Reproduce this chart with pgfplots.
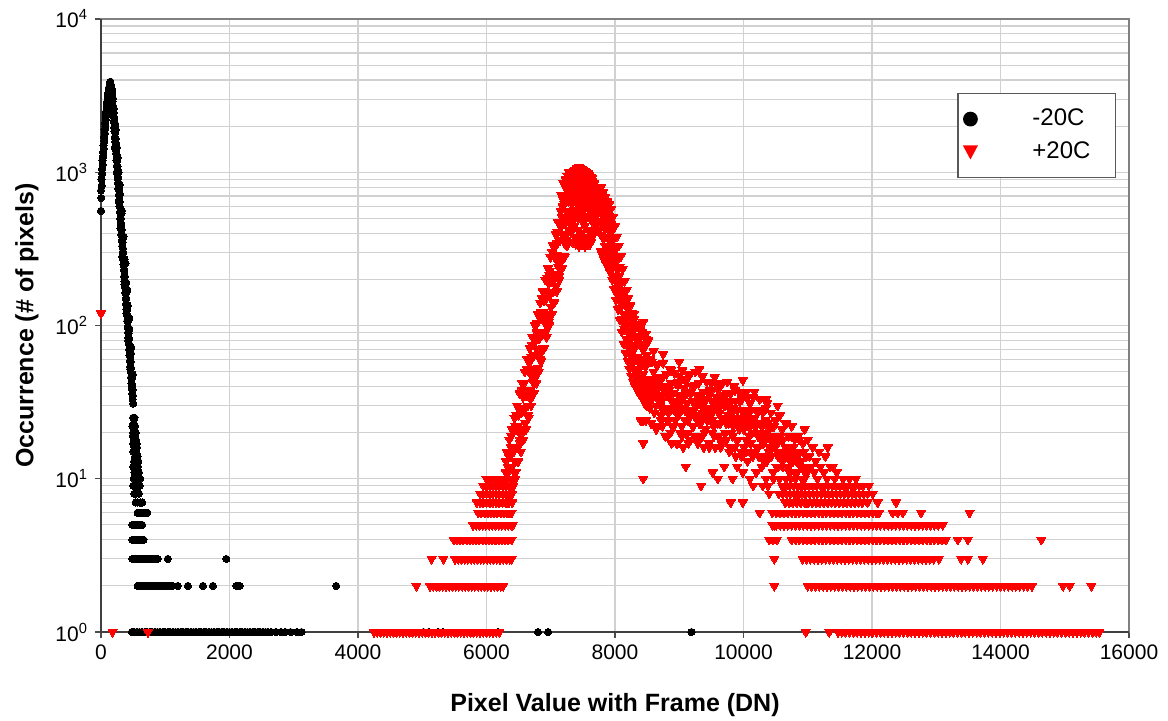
\documentclass[border=0pt]{standalone}
\usepackage{fontspec}
\setmainfont{Liberation Sans}
\usepackage{pgfplots}
\pgfplotsset{compat=1.18}
\usepackage{pgfplotstable}

% -20C series
\pgfplotstableread[row sep=\\]{
x y\\
0 560\\ 0 760\\ 4 680\\ 8 900\\ 12 820\\ 16 1050\\ 20 980\\ 24 1200\\ 28 1120\\ 32 1350\\ 36 1280\\ 40 1500\\ 44 1420\\ 48 1700\\ 52 1600\\ 56 1900\\ 60 1800\\ 64 2100\\ 68 2000\\ 72 2300\\ 76 2200\\ 80 2500\\ 84 2400\\ 88 2700\\ 92 2600\\ 96 2900\\ 100 2800\\ 104 3100\\ 108 3000\\ 112 3300\\ 116 3200\\ 120 3500\\ 124 3400\\ 128 3600\\ 132 3500\\ 136 3700\\ 140 3650\\ 144 3800\\ 146 3900\\ 148 3600\\ 152 3750\\ 156 3550\\ 160 3650\\ 164 3400\\ 168 3500\\ 172 3200\\ 176 3300\\ 180 2900\\ 184 3050\\ 188 2700\\ 192 2500\\
196 2450\\ 199 2150\\ 202 2300\\ 205 1950\\ 208 2150\\ 211 1850\\ 214 1950\\ 217 1700\\ 220 1820\\ 223 1580\\ 226 1650\\ 229 1420\\ 232 1550\\ 235 1330\\ 238 1400\\ 241 1200\\ 244 1300\\ 247 1100\\ 250 1180\\ 253 1000\\ 256 1090\\ 259 920\\ 262 980\\ 265 850\\ 268 920\\ 271 780\\ 274 840\\ 277 710\\ 280 770\\ 283 650\\ 286 700\\ 289 600\\ 292 640\\ 295 550\\ 298 590\\ 301 500\\ 304 540\\ 307 460\\ 310 500\\ 313 430\\ 316 460\\ 319 390\\ 322 420\\ 325 360\\ 328 385\\ 331 330\\ 334 350\\ 337 300\\ 340 320\\ 343 270\\ 346 300\\ 349 250\\ 352 270\\ 355 230\\ 358 250\\ 361 210\\ 364 230\\ 367 195\\ 370 210\\ 373 178\\ 376 192\\ 379 163\\ 382 175\\ 385 150\\ 388 162\\ 391 138\\ 394 150\\ 397 127\\ 400 137\\ 403 117\\ 406 126\\ 409 107\\ 412 116\\ 415 98\\ 418 106\\ 421 90\\ 424 97\\ 427 83\\ 430 89\\ 433 76\\ 436 82\\ 439 70\\ 442 75\\ 445 64\\ 448 69\\ 451 59\\ 454 63\\ 457 54\\ 460 58\\ 463 50\\ 466 53\\ 469 46\\ 472 49\\ 475 42\\ 478 45\\ 481 39\\ 484 41\\ 487 36\\ 490 38\\ 493 33\\ 496 35\\ 500 31\\
224 2050\\ 248 1450\\ 272 1000\\ 296 720\\ 320 540\\ 344 380\\ 368 270\\ 392 190\\ 416 135\\ 440 95\\ 464 66\\ 488 46\\
200 2600\\ 230 1900\\ 260 1250\\ 290 830\\ 320 560\\ 350 380\\ 380 255\\ 410 170\\ 440 112\\ 470 72\\ 495 48\\
215 1450\\ 245 1000\\ 275 650\\ 305 430\\ 335 280\\ 365 185\\ 395 120\\ 425 80\\ 455 52\\
500 25\\ 520 25\\ 510 23\\ 490 22\\ 530 22\\ 505 20\\ 540 20\\ 495 19\\ 525 19\\ 515 18\\ 545 18\\ 500 17\\ 535 17\\ 555 17\\ 520 16\\ 560 16\\ 505 15\\ 545 15\\ 530 14\\ 570 14\\ 515 13\\ 550 13\\ 580 13\\ 500 12\\ 540 12\\ 575 12\\ 520 11\\ 560 11\\ 590 11\\ 510 10\\ 545 10\\ 580 10\\ 610 10\\ 500 9\\ 530 9\\ 560 9\\ 600 9\\ 520 8\\ 550 8\\ 590 8\\ 540 7\\ 570 7\\ 610 7\\ 640 7\\ 570 6\\ 600 6\\ 640 6\\ 680 6\\ 720 6\\ 490 5\\ 520 5\\ 560 5\\ 600 5\\ 640 5\\ 490 4\\ 520 4\\ 550 4\\ 580 4\\ 620 4\\ 660 4\\
490 3\\ 520 3\\ 550 3\\ 580 3\\ 610 3\\ 640 3\\ 670 3\\ 700 3\\ 730 3\\ 760 3\\ 790 3\\ 820 3\\ 850 3\\ 880 3\\ 1040 3\\ 1950 3\\
570 2\\ 600 2\\ 630 2\\ 660 2\\ 690 2\\ 720 2\\ 750 2\\ 780 2\\ 810 2\\ 840 2\\ 870 2\\ 900 2\\ 930 2\\ 960 2\\ 990 2\\ 1020 2\\ 1050 2\\ 1080 2\\ 1110 2\\ 1196 2\\ 1352 2\\ 1586 2\\ 1742 2\\ 2106 2\\ 2158 2\\ 3660 2\\
480 1\\ 520 1\\ 560 1\\ 600 1\\ 640 1\\ 680 1\\ 720 1\\ 760 1\\ 800 1\\ 840 1\\ 880 1\\ 920 1\\ 960 1\\ 1000 1\\ 1040 1\\ 1080 1\\ 1120 1\\ 1160 1\\ 1200 1\\ 1240 1\\ 1280 1\\ 1320 1\\ 1360 1\\ 1400 1\\ 1440 1\\ 1480 1\\ 1520 1\\ 1560 1\\ 1600 1\\ 1640 1\\ 1680 1\\ 1720 1\\ 1760 1\\ 1800 1\\ 1840 1\\ 1880 1\\ 1920 1\\ 1960 1\\ 2000 1\\ 2040 1\\ 2080 1\\ 2120 1\\ 2160 1\\ 2200 1\\ 2240 1\\ 2280 1\\ 2320 1\\ 2360 1\\ 2400 1\\ 2440 1\\ 2480 1\\ 2520 1\\ 2560 1\\ 2600 1\\ 2650 1\\ 2720 1\\ 2800 1\\ 2870 1\\ 2950 1\\ 3050 1\\ 3120 1\\ 5020 1\\ 5100 1\\ 5250 1\\ 5320 1\\ 6180 1\\ 6800 1\\ 6960 1\\ 9190 1\\
}\blackdata

% +20C series
\pgfplotstableread[row sep=\\]{
x y\\
0 120\\ 180 1\\ 730 1\\
4250 1\\ 4300 1\\ 4350 1\\ 4400 1\\ 4450 1\\ 4500 1\\ 4550 1\\ 4600 1\\ 4650 1\\ 4700 1\\ 4750 1\\ 4800 1\\ 4850 1\\ 4900 1\\ 4950 1\\ 5000 1\\ 5050 1\\ 5100 1\\ 5150 1\\ 5200 1\\ 5250 1\\ 5300 1\\ 5350 1\\ 5400 1\\ 5450 1\\ 5500 1\\ 5550 1\\ 5600 1\\ 5650 1\\ 5700 1\\ 5750 1\\ 5800 1\\ 5850 1\\ 5900 1\\ 5950 1\\ 6000 1\\ 6050 1\\ 6100 1\\ 6150 1\\ 6200 1\\
4910 2\\ 5120 2\\ 5170 2\\ 5220 2\\ 5270 2\\ 5320 2\\ 5370 2\\ 5420 2\\ 5470 2\\ 5520 2\\ 5570 2\\ 5620 2\\ 5670 2\\ 5720 2\\ 5770 2\\ 5820 2\\ 5870 2\\ 5920 2\\ 5970 2\\ 6020 2\\ 6070 2\\ 6120 2\\ 6170 2\\ 6220 2\\ 6260 2\\
5145 3\\ 5330 3\\ 5510 3\\ 5560 3\\ 5610 3\\ 5660 3\\ 5710 3\\ 5760 3\\ 5810 3\\ 5860 3\\ 5910 3\\ 5960 3\\ 6010 3\\ 6060 3\\ 6110 3\\ 6160 3\\ 6210 3\\ 6260 3\\ 6310 3\\ 6360 3\\ 6390 3\\
5490 4\\ 5540 4\\ 5590 4\\ 5640 4\\ 5690 4\\ 5740 4\\ 5790 4\\ 5840 4\\ 5890 4\\ 5940 4\\ 5990 4\\ 6040 4\\ 6090 4\\ 6140 4\\ 6190 4\\ 6240 4\\ 6290 4\\ 6340 4\\ 6390 4\\
5790 5\\ 5840 5\\ 5890 5\\ 5940 5\\ 5990 5\\ 6040 5\\ 6090 5\\ 6140 5\\ 6190 5\\ 6240 5\\ 6290 5\\ 6340 5\\ 6390 5\\ 6410 5\\
5870 6\\ 5920 6\\ 5970 6\\ 6020 6\\ 6070 6\\ 6120 6\\ 6170 6\\ 6220 6\\ 6270 6\\ 6320 6\\ 6370 6\\ 6390 6\\
5850 7\\ 5900 7\\ 5950 7\\ 6000 7\\ 6050 7\\ 6100 7\\ 6150 7\\ 6200 7\\ 6250 7\\ 6300 7\\ 6350 7\\ 6400 7\\
5900 8\\ 5950 8\\ 6000 8\\ 6050 8\\ 6100 8\\ 6150 8\\ 6200 8\\ 6250 8\\ 6300 8\\ 6350 8\\ 6400 8\\
5950 9\\ 6000 9\\ 6050 9\\ 6100 9\\ 6150 9\\ 6200 9\\ 6250 9\\ 6300 9\\ 6350 9\\ 6400 9\\ 6420 9\\
6000 10\\ 6050 10\\ 6100 10\\ 6150 10\\ 6200 10\\ 6250 10\\ 6300 10\\ 6350 10\\ 6400 10\\ 6450 10\\
6300 11\\ 6320 8\\ 6340 11\\ 6360 9\\ 6380 16\\ 6400 12\\ 6420 15\\ 6440 13\\ 6460 21\\ 6480 16\\ 6500 26\\ 6520 18\\ 6540 27\\ 6560 20\\ 6580 38\\ 6600 29\\ 6620 35\\ 6640 30\\ 6660 50\\ 6680 38\\ 6700 62\\ 6720 43\\ 6740 64\\ 6760 48\\ 6780 90\\ 6800 68\\ 6820 82\\ 6840 70\\ 6860 118\\ 6880 91\\ 6900 145\\ 6920 102\\ 6940 152\\ 6960 113\\ 6980 213\\ 7000 161\\ 7020 195\\ 7040 166\\ 7060 278\\ 7080 215\\ 7100 344\\ 7120 240\\ 7140 360\\ 7160 267\\ 7180 506\\ 7200 382\\ 7220 461\\ 7240 392\\ 7260 658\\ 7280 508\\ 7300 815\\
6310 8\\ 6330 12\\ 6350 9\\ 6370 14\\ 6390 12\\ 6410 15\\ 6430 11\\ 6450 22\\ 6470 16\\ 6490 22\\ 6510 20\\ 6530 27\\ 6550 21\\ 6570 34\\ 6590 29\\ 6610 35\\ 6630 26\\ 6650 52\\ 6670 37\\ 6690 52\\ 6710 46\\ 6730 64\\ 6750 49\\ 6770 80\\ 6790 69\\ 6810 83\\ 6830 60\\ 6850 122\\ 6870 87\\ 6890 122\\ 6910 109\\ 6930 152\\ 6950 115\\ 6970 188\\ 6990 162\\ 7010 196\\ 7030 143\\ 7050 289\\ 7070 206\\ 7090 290\\ 7110 258\\ 7130 360\\ 7150 273\\ 7170 446\\ 7190 385\\ 7210 464\\ 7230 337\\ 7250 682\\ 7270 486\\ 7290 686\\
6305 13\\ 6325 7\\ 6345 14\\ 6365 8\\ 6385 19\\ 6405 9\\ 6425 21\\ 6445 11\\ 6465 26\\ 6485 13\\ 6505 29\\ 6525 17\\ 6545 38\\ 6565 18\\ 6585 42\\ 6605 23\\ 6625 52\\ 6645 26\\ 6665 57\\ 6685 33\\ 6705 75\\ 6725 36\\ 6745 84\\ 6765 46\\ 6785 103\\ 6805 53\\ 6825 114\\ 6845 66\\ 6865 150\\ 6885 71\\ 6905 167\\ 6925 91\\ 6945 205\\ 6965 105\\ 6985 227\\ 7005 132\\ 7025 300\\ 7045 142\\ 7065 332\\ 7085 181\\ 7105 409\\ 7125 209\\ 7145 452\\ 7165 263\\ 7185 597\\ 7205 282\\ 7225 662\\ 7245 361\\ 7265 815\\ 7285 417\\
6315 15\\ 6335 6\\ 6355 18\\ 6375 8\\ 6395 21\\ 6415 9\\ 6435 25\\ 6455 11\\ 6475 30\\ 6495 13\\ 6515 36\\ 6535 15\\ 6555 42\\ 6575 18\\ 6595 50\\ 6615 21\\ 6635 60\\ 6655 25\\ 6675 71\\ 6695 30\\ 6715 84\\ 6735 36\\ 6755 100\\ 6775 42\\ 6795 119\\ 6815 50\\ 6835 141\\ 6855 59\\ 6875 167\\ 6895 71\\ 6915 199\\ 6935 84\\ 6955 236\\ 6975 100\\ 6995 280\\ 7015 118\\ 7035 333\\ 7055 141\\ 7075 396\\ 7095 167\\ 7115 470\\ 7135 199\\ 7155 560\\ 7175 236\\ 7195 664\\ 7215 280\\ 7235 790\\ 7255 333\\ 7275 936\\
7165 710\\ 7180 700\\ 7195 850\\ 7230 900\\ 7243 900\\ 7260 950\\ 7280 1000\\
7210 620\\ 7225 700\\ 7240 560\\ 7255 760\\ 7270 650\\ 7285 830\\
7300 780\\ 7312 900\\ 7324 830\\ 7336 960\\ 7348 880\\ 7360 1010\\ 7372 940\\ 7384 1040\\ 7396 970\\ 7408 1060\\ 7420 990\\ 7432 1080\\ 7444 1000\\ 7456 1070\\ 7468 950\\ 7480 1050\\ 7492 980\\ 7504 1040\\ 7516 920\\ 7528 1020\\ 7540 960\\ 7552 1000\\ 7564 900\\ 7576 980\\ 7588 870\\ 7600 960\\ 7612 850\\ 7624 930\\ 7636 820\\ 7648 880\\ 7660 780\\ 7672 840\\ 7684 740\\ 7696 790\\ 7708 700\\ 7720 740\\
7306 560\\ 7318 470\\ 7330 620\\ 7342 420\\ 7354 700\\ 7366 380\\ 7378 560\\ 7390 340\\ 7402 640\\ 7414 360\\ 7426 500\\ 7438 330\\ 7450 720\\ 7462 400\\ 7474 540\\ 7486 340\\ 7498 620\\ 7510 350\\ 7522 480\\ 7534 330\\ 7546 680\\ 7558 360\\ 7570 520\\ 7582 340\\ 7594 600\\ 7606 380\\ 7618 500\\ 7630 350\\ 7642 560\\ 7654 420\\ 7666 480\\ 7678 400\\ 7690 560\\ 7702 450\\ 7714 520\\ 7726 480\\
7303 650\\ 7327 720\\ 7351 800\\ 7375 680\\ 7399 840\\ 7423 760\\ 7447 860\\ 7471 700\\ 7495 820\\ 7519 640\\ 7543 780\\ 7567 700\\ 7591 760\\ 7615 660\\ 7639 700\\ 7663 620\\ 7687 650\\ 7711 600\\
7304 676\\ 7312 450\\ 7320 850\\ 7328 484\\ 7336 751\\ 7344 349\\ 7352 979\\ 7360 568\\ 7368 446\\ 7376 832\\ 7384 518\\ 7392 646\\ 7400 375\\ 7408 717\\ 7416 957\\ 7424 421\\ 7432 610\\ 7440 795\\ 7448 338\\ 7456 549\\ 7464 676\\ 7472 393\\ 7480 913\\ 7488 484\\ 7496 751\\ 7504 349\\ 7512 979\\ 7520 568\\ 7528 446\\ 7536 832\\ 7544 518\\ 7552 646\\ 7560 375\\ 7568 717\\ 7576 957\\ 7584 421\\ 7592 610\\ 7600 795\\ 7608 338\\ 7616 549\\ 7624 676\\ 7632 393\\ 7640 913\\ 7648 484\\ 7656 751\\ 7664 400\\ 7672 850\\ 7680 568\\ 7688 446\\ 7696 760\\ 7704 518\\ 7712 646\\ 7720 420\\
7710 776\\ 7760 800\\ 7790 700\\ 7820 650\\ 7865 610\\ 7900 520\\ 7940 460\\ 7968 430\\
7745 760\\ 7760 620\\ 7775 700\\ 7790 540\\ 7805 650\\ 7820 480\\ 7835 600\\ 7850 430\\ 7865 560\\ 7880 380\\
7740 700\\ 7770 640\\ 7800 620\\ 7830 560\\ 7860 540\\ 7890 500\\ 7920 470\\ 7950 430\\ 7980 370\\ 8010 320\\ 8040 270\\ 8070 240\\ 8100 190\\ 8130 165\\ 8160 140\\ 8190 130\\ 8220 112\\ 8250 100\\ 8280 92\\ 8310 85\\ 8340 80\\ 8370 82\\ 8400 76\\ 8430 70\\ 8460 72\\ 8490 64\\ 8440 105\\ 8290 118\\ 8480 88\\ 8520 80\\
7755 420\\ 7785 390\\ 7815 370\\ 7845 330\\ 7875 310\\ 7905 290\\ 7935 270\\ 7965 240\\ 7995 210\\ 8025 175\\ 8055 155\\ 8085 130\\ 8115 110\\ 8145 95\\ 8175 82\\ 8205 72\\ 8235 64\\ 8265 56\\ 8295 52\\ 8325 47\\ 8355 44\\ 8385 42\\ 8415 40\\ 8445 38\\ 8475 36\\ 8505 34\\
7747 560\\ 7777 480\\ 7807 520\\ 7837 430\\ 7867 450\\ 7897 370\\ 7927 400\\ 7957 320\\ 7987 300\\ 8017 240\\ 8047 230\\ 8077 170\\ 8107 160\\ 8137 118\\ 8167 115\\ 8197 90\\ 8227 92\\ 8257 72\\ 8287 74\\ 8317 60\\ 8347 62\\ 8377 52\\ 8407 58\\ 8437 48\\ 8467 54\\ 8497 44\\
7762 600\\ 7792 450\\ 7822 520\\ 7852 380\\ 7882 450\\ 7912 330\\ 7942 360\\ 7972 260\\ 8002 280\\ 8032 190\\ 8062 210\\ 8092 140\\ 8122 150\\ 8152 100\\ 8182 115\\ 8212 78\\ 8242 88\\ 8272 60\\ 8302 70\\ 8332 50\\ 8362 58\\ 8392 45\\ 8422 60\\ 8452 42\\ 8482 55\\ 8512 40\\
7780 795\\ 7815 742\\ 7850 693\\ 7880 646\\ 7910 617\\ 7940 577\\ 7970 513\\ 8000 446\\ 8030 380\\ 8060 332\\ 8090 282\\ 8120 234\\ 8150 195\\ 8180 170\\ 8210 152\\ 8240 135\\ 8270 121\\ 8300 110\\ 8330 102\\ 8360 98\\ 8390 93\\ 8420 90\\ 8450 85\\ 8480 81\\ 8510 78\\
7775 308\\ 7805 287\\ 7835 268\\ 7865 250\\ 7895 239\\ 7925 223\\ 7955 199\\ 7985 173\\ 8015 147\\ 8045 128\\ 8075 109\\ 8105 91\\ 8135 76\\ 8165 66\\ 8195 59\\ 8225 52\\ 8255 47\\ 8285 43\\ 8315 40\\ 8345 38\\ 8375 36\\ 8405 35\\ 8435 33\\ 8465 31\\ 8495 30\\
8400 24\\ 8440 24\\ 8480 24\\ 8440 17\\ 8440 10\\
8500 56\\ 8525 41\\ 8550 60\\ 8575 45\\ 8600 50\\ 8625 36\\ 8650 55\\ 8675 40\\ 8700 46\\ 8725 32\\ 8750 57\\ 8775 40\\ 8800 48\\ 8825 35\\ 8850 52\\ 8875 42\\ 8900 36\\ 8925 49\\ 8950 31\\ 8975 43\\ 9000 47\\ 9025 35\\ 9050 51\\ 9075 39\\ 9100 43\\ 9125 31\\ 9150 47\\ 9175 36\\ 9200 40\\ 9225 28\\ 9250 50\\ 9275 35\\ 9300 42\\ 9325 31\\ 9350 47\\ 9375 37\\ 9400 32\\ 9425 43\\ 9450 27\\ 9475 38\\ 9500 42\\ 9525 31\\ 9550 46\\ 9575 34\\ 9600 38\\ 9625 27\\ 9650 41\\ 9675 31\\ 9700 35\\ 9725 25\\ 9750 43\\ 9775 31\\ 9800 36\\ 9825 27\\ 9850 40\\ 9875 32\\ 9900 28\\ 9925 37\\ 9950 23\\ 9975 33\\ 10000 35\\ 10025 26\\ 10050 37\\ 10075 28\\ 10100 31\\ 10125 23\\ 10150 34\\ 10175 25\\ 10200 28\\ 10225 19\\ 10250 33\\ 10275 23\\ 10300 27\\ 10325 20\\ 10350 29\\ 10375 23\\ 10400 21\\ 10425 27\\ 10450 17\\ 10475 22\\ 10500 24\\ 10525 17\\ 10550 26\\ 10575 19\\ 10600 21\\ 10625 15\\ 10650 23\\ 10675 16\\ 10700 19\\ 10725 13\\ 10750 22\\ 10775 16\\ 10800 18\\ 10825 13\\ 10850 19\\ 10875 15\\ 10900 13\\ 10925 17\\ 10950 10\\ 10975 14\\
8512 31\\ 8537 34\\ 8562 23\\ 8587 39\\ 8612 27\\ 8637 30\\ 8662 22\\ 8687 32\\ 8712 26\\ 8737 22\\ 8762 29\\ 8787 19\\ 8812 24\\ 8837 27\\ 8862 20\\ 8887 29\\ 8912 22\\ 8937 24\\ 8962 17\\ 8987 26\\ 9012 20\\ 9037 22\\ 9062 16\\ 9087 28\\ 9112 20\\ 9137 24\\ 9162 18\\ 9187 27\\ 9212 22\\ 9237 19\\ 9262 26\\ 9287 17\\ 9312 23\\ 9337 25\\ 9362 19\\ 9387 28\\ 9412 21\\ 9437 24\\ 9462 17\\ 9487 26\\ 9512 20\\ 9537 22\\ 9562 16\\ 9587 28\\ 9612 19\\ 9637 23\\ 9662 17\\ 9687 25\\ 9712 20\\ 9737 18\\ 9762 24\\ 9787 16\\ 9812 20\\ 9837 22\\ 9862 16\\ 9887 24\\ 9912 18\\ 9937 21\\ 9962 15\\ 9987 23\\ 10012 16\\ 10037 18\\ 10062 13\\ 10087 23\\ 10112 17\\ 10137 20\\ 10162 15\\ 10187 22\\ 10212 16\\ 10237 14\\ 10262 19\\ 10287 12\\ 10312 17\\ 10337 19\\ 10362 13\\ 10387 19\\ 10412 15\\ 10437 16\\ 10462 11\\ 10487 16\\ 10512 12\\ 10537 14\\ 10562 10\\ 10587 18\\ 10612 12\\ 10637 14\\ 10662 10\\ 10687 15\\ 10712 11\\ 10737 10\\ 10762 13\\ 10787 8\\ 10812 10\\ 10837 11\\ 10862 8\\ 10887 12\\ 10912 9\\ 10937 10\\ 10962 8\\ 10987 12\\
8506 40\\ 8556 33\\ 8606 44\\ 8656 35\\ 8706 30\\ 8756 38\\ 8806 28\\ 8856 36\\ 8906 31\\ 8956 27\\ 9006 34\\ 9056 29\\ 9106 36\\ 9156 26\\ 9206 32\\ 9256 30\\ 9306 35\\ 9356 27\\ 9406 33\\ 9456 29\\ 9506 24\\ 9556 31\\ 9606 28\\ 9656 25\\ 9706 30\\ 9756 26\\ 9806 32\\ 9856 24\\ 9906 28\\ 9956 25\\ 10006 21\\ 10056 26\\ 10106 22\\ 10156 25\\ 10206 20\\ 10256 23\\ 10306 17\\ 10356 20\\ 10406 16\\ 10456 19\\ 10506 17\\ 10556 15\\ 10606 13\\ 10656 16\\ 10706 12\\ 10756 14\\ 10806 11\\ 10856 13\\ 10906 10\\ 10956 11\\
8518 45\\ 8543 29\\ 8568 58\\ 8593 34\\ 8618 44\\ 8643 21\\ 8668 56\\ 8693 34\\ 8718 24\\ 8743 46\\ 8768 28\\ 8793 35\\ 8818 19\\ 8843 38\\ 8868 51\\ 8893 22\\ 8918 32\\ 8943 42\\ 8968 17\\ 8993 29\\ 9018 33\\ 9043 19\\ 9068 45\\ 9093 24\\ 9118 37\\ 9143 17\\ 9168 48\\ 9193 28\\ 9218 22\\ 9243 41\\ 9268 25\\ 9293 32\\ 9318 18\\ 9343 35\\ 9368 47\\ 9393 20\\ 9418 29\\ 9443 37\\ 9468 16\\ 9493 26\\ 9518 32\\ 9543 19\\ 9568 42\\ 9593 23\\ 9618 33\\ 9643 16\\ 9668 42\\ 9693 25\\ 9718 20\\ 9743 36\\ 9768 23\\ 9793 28\\ 9818 16\\ 9843 29\\ 9868 38\\ 9893 18\\ 9918 25\\ 9943 32\\ 9968 14\\ 9993 23\\ 10018 26\\ 10043 15\\ 10068 34\\ 10093 19\\ 10118 28\\ 10143 14\\ 10168 37\\ 10193 22\\ 10218 16\\ 10243 28\\ 10268 18\\ 10293 22\\ 10318 13\\ 10343 24\\ 10368 31\\ 10393 15\\ 10418 18\\ 10443 22\\ 10468 10\\ 10493 16\\ 10518 19\\ 10543 12\\ 10568 26\\ 10593 14\\ 10618 18\\ 10643 9\\ 10668 23\\ 10693 14\\ 10718 11\\ 10743 19\\ 10768 13\\ 10793 15\\ 10818 8\\ 10843 14\\ 10868 18\\ 10893 9\\ 10918 12\\ 10943 15\\ 10968 7\\ 10993 11\\
8531 35\\ 8581 38\\ 8631 22\\ 8681 42\\ 8731 29\\ 8781 19\\ 8831 24\\ 8881 17\\ 8931 28\\ 8981 41\\ 9031 32\\ 9081 35\\ 9131 20\\ 9181 37\\ 9231 26\\ 9281 19\\ 9331 23\\ 9381 16\\ 9431 25\\ 9481 36\\ 9531 28\\ 9581 29\\ 9631 18\\ 9681 32\\ 9731 23\\ 9781 15\\ 9831 19\\ 9881 14\\ 9931 22\\ 9981 28\\ 10031 22\\ 10081 24\\ 10131 15\\ 10181 22\\ 10231 16\\ 10281 12\\ 10331 14\\ 10381 9\\ 10431 14\\ 10481 19\\ 10531 15\\ 10581 14\\ 10631 9\\ 10681 15\\ 10731 11\\
8600 68\\ 8750 65\\ 9000 58\\ 9315 52\\ 9990 44\\ 10350 33\\ 10530 30\\ 10950 21\\ 9100 12\\ 9340 9\\ 9800 7\\ 9990 7\\ 10250 6\\ 10480 5\\ 9520 11\\ 9600 10\\ 9700 12\\ 9830 10\\ 9900 12\\ 9990 11\\ 10100 10\\ 10150 9\\ 10200 11\\ 10300 9\\ 10350 10\\ 10400 8\\
11000 18\\ 11025 14\\ 11050 12\\ 11075 16\\ 11100 11\\ 11125 13\\ 11150 10\\ 11175 15\\ 11200 12\\ 11225 9\\ 11250 11\\ 11275 14\\ 11300 10\\ 11310 16\\ 11350 12\\ 11390 12\\ 11420 10\\ 11450 11\\ 11500 9\\ 11550 10\\ 11600 9\\ 11650 10\\ 11700 9\\ 11750 10\\
10970 1\\ 11334 1\\ 11470 1\\ 11530 1\\ 11590 1\\ 11650 1\\ 11710 1\\ 11770 1\\ 11830 1\\ 11890 1\\ 11950 1\\ 12010 1\\ 12070 1\\ 12130 1\\ 12190 1\\ 12250 1\\ 12310 1\\ 12370 1\\ 12430 1\\ 12490 1\\ 12550 1\\ 12610 1\\ 12670 1\\ 12730 1\\ 12790 1\\ 12850 1\\ 12910 1\\ 12970 1\\ 13030 1\\ 13090 1\\ 13150 1\\ 13210 1\\ 13270 1\\ 13330 1\\ 13390 1\\ 13450 1\\ 13510 1\\ 13570 1\\ 13630 1\\ 13690 1\\ 13750 1\\ 13810 1\\ 13870 1\\ 13930 1\\ 13990 1\\ 14050 1\\ 14110 1\\ 14170 1\\ 14230 1\\ 14290 1\\ 14350 1\\ 14410 1\\ 14470 1\\ 14530 1\\ 14590 1\\ 14650 1\\ 14710 1\\ 14770 1\\ 14830 1\\ 14890 1\\ 14950 1\\ 15010 1\\ 15070 1\\ 15130 1\\ 15190 1\\ 15250 1\\ 15310 1\\ 15370 1\\ 15430 1\\ 15490 1\\ 15540 1\\
10480 2\\ 11000 2\\ 11060 2\\ 11120 2\\ 11180 2\\ 11240 2\\ 11300 2\\ 11360 2\\ 11420 2\\ 11480 2\\ 11540 2\\ 11600 2\\ 11660 2\\ 11720 2\\ 11780 2\\ 11840 2\\ 11900 2\\ 11960 2\\ 12020 2\\ 12080 2\\ 12140 2\\ 12200 2\\ 12260 2\\ 12320 2\\ 12380 2\\ 12440 2\\ 12500 2\\ 12560 2\\ 12620 2\\ 12680 2\\ 12740 2\\ 12800 2\\ 12860 2\\ 12920 2\\ 12980 2\\ 13040 2\\ 13100 2\\ 13160 2\\ 13220 2\\ 13280 2\\ 13340 2\\ 13400 2\\ 13460 2\\ 13520 2\\ 13580 2\\ 13640 2\\ 13700 2\\ 13760 2\\ 13820 2\\ 13880 2\\ 13940 2\\ 14000 2\\ 14060 2\\ 14120 2\\ 14180 2\\ 14240 2\\ 14300 2\\ 14360 2\\ 14420 2\\ 14490 2\\ 14974 2\\ 15078 2\\ 15416 2\\
10480 3\\ 10920 3\\ 10980 3\\ 11040 3\\ 11100 3\\ 11160 3\\ 11220 3\\ 11280 3\\ 11340 3\\ 11400 3\\ 11460 3\\ 11520 3\\ 11580 3\\ 11640 3\\ 11700 3\\ 11760 3\\ 11820 3\\ 11880 3\\ 11940 3\\ 12000 3\\ 12060 3\\ 12120 3\\ 12180 3\\ 12240 3\\ 12300 3\\ 12360 3\\ 12420 3\\ 12480 3\\ 12540 3\\ 12600 3\\ 12660 3\\ 12720 3\\ 12780 3\\ 12840 3\\ 12900 3\\ 12960 3\\ 13040 3\\ 13388 3\\ 13492 3\\ 13726 3\\
10400 4\\ 10460 4\\ 10520 4\\ 10750 4\\ 10810 4\\ 10870 4\\ 10930 4\\ 10990 4\\ 11050 4\\ 11110 4\\ 11170 4\\ 11230 4\\ 11290 4\\ 11350 4\\ 11410 4\\ 11470 4\\ 11530 4\\ 11590 4\\ 11650 4\\ 11710 4\\ 11770 4\\ 11830 4\\ 11890 4\\ 11950 4\\ 12010 4\\ 12070 4\\ 12130 4\\ 12190 4\\ 12250 4\\ 12310 4\\ 12370 4\\ 12430 4\\ 12490 4\\ 12550 4\\ 12610 4\\ 12670 4\\ 12730 4\\ 12790 4\\ 12850 4\\ 12910 4\\ 12970 4\\ 13030 4\\ 13090 4\\ 13150 4\\ 13336 4\\ 13492 4\\ 14636 4\\
10450 5\\ 10510 5\\ 10570 5\\ 10630 5\\ 10690 5\\ 10750 5\\ 10810 5\\ 10870 5\\ 10930 5\\ 10990 5\\ 11050 5\\ 11110 5\\ 11170 5\\ 11230 5\\ 11290 5\\ 11350 5\\ 11410 5\\ 11470 5\\ 11530 5\\ 11590 5\\ 11650 5\\ 11710 5\\ 11770 5\\ 11830 5\\ 11890 5\\ 11950 5\\ 12010 5\\ 12070 5\\ 12130 5\\ 12190 5\\ 12250 5\\ 12310 5\\ 12370 5\\ 12430 5\\ 12490 5\\ 12550 5\\ 12610 5\\ 12670 5\\ 12730 5\\ 12790 5\\ 12850 5\\ 12910 5\\ 12970 5\\ 13030 5\\ 13100 5\\
10250 6\\ 10450 6\\ 10510 6\\ 10570 6\\ 10630 6\\ 10690 6\\ 10750 6\\ 10810 6\\ 10870 6\\ 10930 6\\ 10990 6\\ 11050 6\\ 11110 6\\ 11170 6\\ 11230 6\\ 11290 6\\ 11350 6\\ 11410 6\\ 11470 6\\ 11530 6\\ 11590 6\\ 11650 6\\ 11710 6\\ 11770 6\\ 11830 6\\ 11890 6\\ 11950 6\\ 12010 6\\ 12070 6\\ 12110 6\\ 12322 6\\ 12400 6\\ 12478 6\\ 12764 6\\ 13518 6\\
9800 7\\ 9990 7\\ 10650 7\\ 10710 7\\ 10770 7\\ 10830 7\\ 10890 7\\ 10950 7\\ 11010 7\\ 11070 7\\ 11130 7\\ 11190 7\\ 11250 7\\ 11310 7\\ 11370 7\\ 11430 7\\ 11490 7\\ 11550 7\\ 11610 7\\ 11670 7\\ 11730 7\\ 11790 7\\ 11850 7\\ 11930 7\\ 12088 7\\ 12374 7\\
10550 8\\ 10610 8\\ 10670 8\\ 10730 8\\ 10790 8\\ 10850 8\\ 10910 8\\ 10970 8\\ 11030 8\\ 11090 8\\ 11150 8\\ 11210 8\\ 11270 8\\ 11330 8\\ 11390 8\\ 11450 8\\ 11510 8\\ 11570 8\\ 11630 8\\ 11690 8\\ 11750 8\\ 11810 8\\ 11870 8\\ 11930 8\\ 12010 8\\
10600 9\\ 10660 9\\ 10720 9\\ 10780 9\\ 10840 9\\ 10900 9\\ 10960 9\\ 11020 9\\ 11080 9\\ 11140 9\\ 11200 9\\ 11260 9\\ 11320 9\\ 11380 9\\ 11440 9\\ 11500 9\\ 11560 9\\ 11620 9\\ 11680 9\\ 11740 9\\ 11800 9\\ 11860 9\\ 11950 9\\
}\reddata

\begin{document}
\begin{tikzpicture}
\begin{axis}[
  width=514pt, height=306.5pt, scale only axis,
  xmin=0, xmax=16000, ymin=1, ymax=10000, ymode=log,
  clip=false,
  scaled x ticks=false,
  xtick={0,2000,4000,6000,8000,10000,12000,14000,16000},
  xticklabels={0,2000,4000,6000,8000,10000,12000,14000,16000},
  ytick={1,10,100,1000,10000},
  yticklabels={10\textsuperscript{0},10\textsuperscript{1},10\textsuperscript{2},10\textsuperscript{3},10\textsuperscript{4}},
  minor ytick={2,3,4,5,6,7,8,9,20,30,40,50,60,70,80,90,200,300,400,500,600,700,800,900,2000,3000,4000,5000,6000,7000,8000,9000},
  xmajorgrids, ymajorgrids, yminorgrids,
  major grid style={black!18, line width=0.6pt},
  minor grid style={black!18, line width=0.6pt},
  minor tick length=0pt, major tick length=3pt,
  tick align=outside, xtick pos=bottom, ytick pos=left,
  tick style={black!70, line width=0.6pt},
  axis line style={black!50, line width=0.7pt},
  ticklabel style={font=\fontsize{10.5}{12}\selectfont},
  xlabel={Pixel Value with Frame (DN)},
  ylabel={Occurrence (\# of pixels)},
  label style={font=\bfseries\fontsize{12.5}{15}\selectfont},
  xlabel style={at={(axis description cs:0.5,-0.119)}, anchor=center},
  ylabel style={at={(axis description cs:-0.072,0.5)}, anchor=center},
  legend cell align=left,
  legend style={at={(0.9874,0.8793)}, anchor=north east, draw=black!65, line width=0.6pt, fill=white,
    inner xsep=2.5pt, inner ysep=4.5pt, row sep=0pt, font=\fontsize{12}{14}\selectfont,
    nodes={inner sep=1pt}},
]
\draw[black!75, line width=0.7pt] (rel axis cs:0,1) -- (rel axis cs:0,0) -- (rel axis cs:1,0);
\addplot[only marks, mark=*, mark size=1.8pt, mark options={black, fill=black, line width=0pt},
  legend image code/.code={\fill[black, draw=none] (0pt,0pt) circle (3.7pt); \path[draw=none, fill=none] (-3.7pt,-8.25pt) rectangle (30pt,8.25pt);}]
  table {\blackdata};
\addlegendentry{\makebox[38pt][l]{-20C}}
\addplot[only marks, mark=triangle*, mark size=2.6pt, mark options={red, fill=red, line width=0pt, rotate=180},
  legend image code/.code={\fill[red, draw=none] (-3.75pt,3.3pt) -- (3.75pt,3.3pt) -- (0pt,-3.7pt) -- cycle; \path[draw=none, fill=none] (-3.75pt,-8.25pt) rectangle (30pt,8.25pt);}]
  table {\reddata};
\addlegendentry{\makebox[38pt][l]{+20C}}
\end{axis}
\pgfresetboundingbox
\path[use as bounding box] (-50.5pt,-44pt) rectangle (533.5pt,316pt);
\end{tikzpicture}
\end{document}
